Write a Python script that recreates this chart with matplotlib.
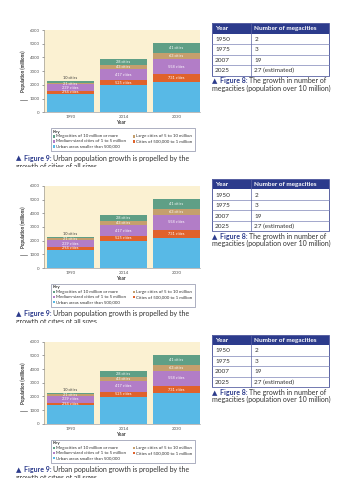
import numpy as np
import matplotlib
matplotlib.use("Agg")
import matplotlib.pyplot as plt
from matplotlib.patches import Rectangle
from matplotlib.transforms import Bbox, TransformedBbox

plt.rcParams['font.family'] = ['Lato', 'DejaVu Sans']

# chart data (millions)
years = ["1990", "2014", "2030"]
smaller = [1350, 1990, 2230]
cities_500k = [200, 360, 540]
medium = [480, 780, 1115]
large = [130, 320, 415]
mega = [120, 410, 730]

lab_500k = ["294 cities", "525 cities", "731 cities"]
lab_medium = ["239 cities", "417 cities", "558 cities"]
lab_large = ["21 cities", "43 cities", "63 cities"]
lab_mega = ["10 cities", "28 cities", "41 cities"]

series_names = ["Megacities of 10 million or more", "Large cities of 5 to 10 million",
                "Medium-sized cities of 1 to 5 million", "Cities of 500,000 to 1 million",
                "Urban areas smaller than 500,000"]
colors = {"smaller": "#58b9e6", "c500": "#e0622b", "medium": "#b27dc7",
          "large": "#c59f6d", "mega": "#5f9f86"}

# table data
tab_years = ["1950", "1975", "2007", "2025"]
tab_counts = ["2", "3", "19", "27 (estimated)"]

W, H = 353, 500
fig = plt.figure(figsize=(W / 100, H / 100), dpi=100)
ov = fig.add_axes([0, 0, 1, 1], zorder=5)
ov.set_xlim(0, W)
ov.set_ylim(H, 0)
ov.axis('off')
ov.patch.set_alpha(0)
renderer = fig.canvas.get_renderer()

txt = "#333333"
navy = "#2c3b8c"


def runs(x, y, parts, size, clip=None):
    for s, kw in parts:
        t = ov.text(x, y, s, fontsize=size, va='baseline', color=kw.pop('color', txt), **kw)
        if clip is not None:
            t.set_clip_box(clip)
            t.set_clip_on(True)
        x += t.get_window_extent(renderer).width


def draw_copy(dy):
    # chart axes: px 44..200 horizontally, 30..112.3 vertically
    top, bot = 30 + dy, 112.3 + dy
    ax = fig.add_axes([44 / W, 1 - bot / H, 156 / W, (bot - top) / H])
    ax.set_facecolor("#fbf1d2")
    x = np.arange(len(years))
    w = 0.887
    bottom = np.zeros(len(years))
    stack = [(smaller, colors["smaller"], None), (cities_500k, colors["c500"], lab_500k),
             (medium, colors["medium"], lab_medium), (large, colors["large"], lab_large),
             (mega, colors["mega"], lab_mega)]
    for vals, c, labs in stack:
        vals = np.array(vals)
        ax.bar(x, vals, w, bottom=bottom, color=c, linewidth=0)
        if labs is not None:
            for i in range(len(years)):
                if labs is lab_mega and i == 0:
                    ax.text(x[i], bottom[i] + vals[i] + 60, labs[i], ha='center', va='bottom',
                            fontsize=2.8, color=txt)
                else:
                    ax.text(x[i], bottom[i] + vals[i] / 2, labs[i], ha='center', va='center',
                            fontsize=2.8, color='white')
        bottom = bottom + vals
    ax.set_xlim(-0.5, 2.443)
    ax.set_ylim(0, 6000)
    ax.set_yticks(range(0, 6001, 1000))
    ax.set_xticks(x)
    ax.set_xticklabels(years)
    ax.tick_params(axis='both', labelsize=3.2, colors='#555555', length=1.5, width=0.4, pad=1.5)
    ax.tick_params(axis='x', length=0, pad=2)
    for s in ['top', 'right']:
        ax.spines[s].set_visible(False)
    ax.spines['left'].set_color('#888888')
    ax.spines['left'].set_linewidth(0.4)
    ax.spines['bottom'].set_color('#888888')
    ax.spines['bottom'].set_linewidth(0.4)
    ax.set_ylabel("Population (millions)", fontsize=3.3, fontweight='bold', color=txt, labelpad=3)
    ax.set_xlabel("Year", fontsize=3.3, fontweight='bold', color=txt, labelpad=1)
    ov.plot([20, 27], [99.5 + dy, 99.5 + dy], color='#666666', lw=0.5)

    # key box
    ov.add_patch(Rectangle((51, 128 + dy), 144, 23, fill=False, ec='#8c8fa8', lw=0.5))
    ov.text(52.5, 132.5 + dy, "Key", fontsize=3.2, fontweight='bold', color=txt, va='baseline')
    keys = [(52.5, 137.5, colors["mega"], series_names[0]),
            (132.5, 137.5, colors["large"], series_names[1]),
            (52.5, 142.5, colors["medium"], series_names[2]),
            (132.5, 142.5, colors["c500"], series_names[3]),
            (52.5, 147.5, colors["smaller"], series_names[4])]
    for kx, ky, c, name in keys:
        ov.add_patch(Rectangle((kx, ky - 2.4 + dy), 2.4, 2.4, color=c, lw=0))
        ov.text(kx + 3.5, ky + dy, name, fontsize=3.2, color=txt, va='baseline')

    # figure 9 caption, second line cut off by the page edge
    runs(16, 160.5 + dy, [("\u25b2 ", {'color': navy, 'family': ['DejaVu Sans']}),
                          ("Figure 9: ", {'fontweight': 'bold', 'color': navy}),
                          ("Urban population growth is propelled by the", {})], 5.0)
    cb = TransformedBbox(Bbox([[0, 163 + dy], [W, 166.8 + dy]]), ov.transData)
    runs(16, 168.5 + dy, [("growth of cities of all sizes", {})], 5.0, clip=cb)

    # table
    tx0, tx1, tdiv = 212, 329, 251
    ty0, th = 23 + dy, 10.5
    ov.add_patch(Rectangle((tx0, ty0), tx1 - tx0, th, color=navy, lw=0))
    ov.text(tx0 + 3, ty0 + 7.3, "Year", fontsize=4.6, fontweight='bold', color='white')
    ov.text(tdiv + 3, ty0 + 7.3, "Number of megacities", fontsize=4.6, fontweight='bold', color='white')
    for i, (yr, ct) in enumerate(zip(tab_years, tab_counts)):
        ry = ty0 + th * (i + 1)
        ov.text(tx0 + 3, ry + 7.3, yr, fontsize=4.6, color=txt)
        ov.text(tdiv + 3.5, ry + 7.3, ct, fontsize=4.6, color=txt)
        ov.plot([tx0, tx1], [ry + th, ry + th], color='#7f86b8', lw=0.5)
    ov.add_patch(Rectangle((tx0, ty0), tx1 - tx0, th * 5, fill=False, ec='#5a63a3', lw=0.7))
    ov.plot([tdiv, tdiv], [ty0, ty0 + th * 5], color='#5a63a3', lw=0.5)
    runs(212, 83.5 + dy, [("\u25b2 ", {'color': navy, 'family': ['DejaVu Sans']}),
                          ("Figure 8: ", {'fontweight': 'bold', 'color': navy}),
                          ("The growth in number of", {})], 5.0)
    runs(212, 90.5 + dy, [("megacities (population over 10 million)", {})], 5.0)


for k in range(3):
    draw_copy(k * 155.8)

fig.savefig("out.png", dpi=100, facecolor='white')
